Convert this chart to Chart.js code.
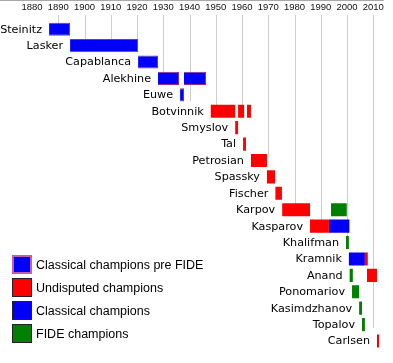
<!DOCTYPE html>
<html><head><meta charset="utf-8">
<script src="https://cdn.jsdelivr.net/npm/chart.js@4.4.0/dist/chart.umd.min.js"></script>
<style>html,body{margin:0;padding:0;background:#fff}#wrap{width:393px;height:363px;position:relative}</style>
</head><body><div id="wrap"><canvas id="c"></canvas></div>
<script>
const champions = ["Steinitz","Lasker","Capablanca","Alekhine","Euwe","Botvinnik","Smyslov","Tal","Petrosian","Spassky","Fischer","Karpov","Kasparov","Khalifman","Kramnik","Anand","Ponomariov","Kasimdzhanov","Topalov","Carlsen"];
const tickYears = [1880,1890,1900,1910,1920,1930,1940,1950,1960,1970,1980,1990,2000,2010];
// row (category index) down to which each year's grid line reaches; null = no line
const gridEndRow = [null,0,1,1,1,3,4.4,5,5,7.7,11,12,13,18.2];
const preFideReigns = [["Steinitz",1886.5,1894.5],["Lasker",1894.5,1920.4],["Capablanca",1920.4,1928.0],["Alekhine",1928.0,1936.0],["Alekhine",1937.9,1946.3],["Euwe",1936.4,1937.9]];
const undisputedReigns = [["Botvinnik",1948.1,1957.4],["Botvinnik",1958.5,1960.8],["Botvinnik",1961.9,1963.4],["Smyslov",1957.4,1958.5],["Tal",1960.4,1961.5],["Petrosian",1963.4,1969.5],["Spassky",1969.5,1972.6],["Fischer",1972.7,1975.2],["Karpov",1975.3,1985.9],["Kasparov",1985.9,1993.1],["Kramnik",2006.8,2007.9],["Anand",2007.6,2011.4],["Carlsen",2011.4,2012.2]];
const classicalReigns = [["Kasparov",1993.1,2000.9],["Kramnik",2000.7,2006.8]];
const fideReigns = [["Karpov",1993.9,1999.9],["Khalifman",1999.6,2000.7],["Anand",2001.0,2002.2],["Ponomariov",2001.9,2004.6],["Kasimdzhanov",2004.6,2005.7],["Topalov",2005.7,2006.8]];
const legendLabels = ["Classical champions pre FIDE","Undisputed champions","Classical champions","FIDE champions"];

const BLUE = '#0000f8', RED = '#ff0000', GREEN = '#008000', PREBORDER = '#a0287a';
const toData = r => r.map(([n,s,e]) => ({y:n, x:[s,e]}));
const allReigns = [].concat(preFideReigns, undisputedReigns, classicalReigns, fideReigns);

const decor = {
  id: 'decor',
  beforeDatasetsDraw(chart) {
    const ctx = chart.ctx, xs = chart.scales.x, ys = chart.scales.y;
    ctx.save();
    ctx.strokeStyle = '#a8a8a8'; ctx.lineWidth = 1;
    ctx.beginPath(); ctx.moveTo(0, 0.5); ctx.lineTo(xs.right, 0.5); ctx.stroke();
    ctx.strokeStyle = '#cdcdcd';
    tickYears.forEach((yr, i) => {
      if (gridEndRow[i] === null) return;
      const px = Math.round(xs.getPixelForValue(yr)) + 0.5;
      ctx.beginPath(); ctx.moveTo(px, 15); ctx.lineTo(px, ys.getPixelForValue(gridEndRow[i])); ctx.stroke();
    });
    ctx.restore();
  },
  afterDatasetsDraw(chart) {
    const ctx = chart.ctx, xs = chart.scales.x, ys = chart.scales.y;
    ctx.save();
    ctx.font = '11.2px "DejaVu Sans"'; ctx.fillStyle = '#000';
    ctx.textAlign = 'right'; ctx.textBaseline = 'middle';
    champions.forEach((n, i) => {
      const start = Math.min(...allReigns.filter(r => r[0] === n).map(r => r[1]));
      ctx.fillText(n, xs.getPixelForValue(start) - 7, ys.getPixelForValue(i) + 0.5);
    });
    // legend
    const fills = [BLUE, RED, BLUE, GREEN];
    ctx.font = '12.5px "Liberation Sans"'; ctx.textAlign = 'left';
    legendLabels.forEach((t, i) => {
      const by = 255 + i * 23;
      ctx.fillStyle = fills[i]; ctx.fillRect(12, by, 20, 19);
      if (i === 0) { ctx.strokeStyle = '#c060a8'; ctx.lineWidth = 2; ctx.strokeRect(13, by + 1, 18, 17); }
      else { ctx.strokeStyle = '#222'; ctx.lineWidth = 1; ctx.strokeRect(12.5, by + 0.5, 19, 18); }
      ctx.fillStyle = '#000';
      ctx.fillText(t, 36, by + 10.5);
    });
    ctx.restore();
  }
};

new Chart(document.getElementById('c'), {
  type: 'bar',
  data: {
    labels: champions,
    datasets: [
      {label: legendLabels[0], data: toData(preFideReigns), backgroundColor: BLUE, borderColor: PREBORDER, borderWidth: 1},
      {label: legendLabels[1], data: toData(undisputedReigns), backgroundColor: RED, borderWidth: 0},
      {label: legendLabels[2], data: toData(classicalReigns), backgroundColor: BLUE, borderWidth: 0},
      {label: legendLabels[3], data: toData(fideReigns), backgroundColor: GREEN, borderWidth: 0}
    ]
  },
  options: {
    indexAxis: 'y',
    responsive: true, maintainAspectRatio: false, animation: false,
    grouped: false,
    barPercentage: 0.8, categoryPercentage: 1.0,
    layout: {padding: {top: 0, left: 21.5, right: 9.2, bottom: 13.8}},
    plugins: {legend: {display: false}, tooltip: {enabled: false}},
    scales: {
      x: {
        type: 'linear', position: 'top', min: 1876, max: 2014,
        afterBuildTicks: s => { s.ticks = tickYears.map(v => ({value: v})); },
        afterFit: s => { s.height = 21; },
        grid: {display: false, drawTicks: false, tickLength: 0},
        border: {display: false},
        ticks: {font: {family: '"Liberation Sans"', size: 9.5}, color: '#111', padding: 8.3, maxRotation: 0, autoSkip: false, callback: v => String(v)}
      },
      y: {type: 'category', display: false, offset: true, grid: {display: false}}
    }
  },
  plugins: [decor]
});
</script></body></html>
